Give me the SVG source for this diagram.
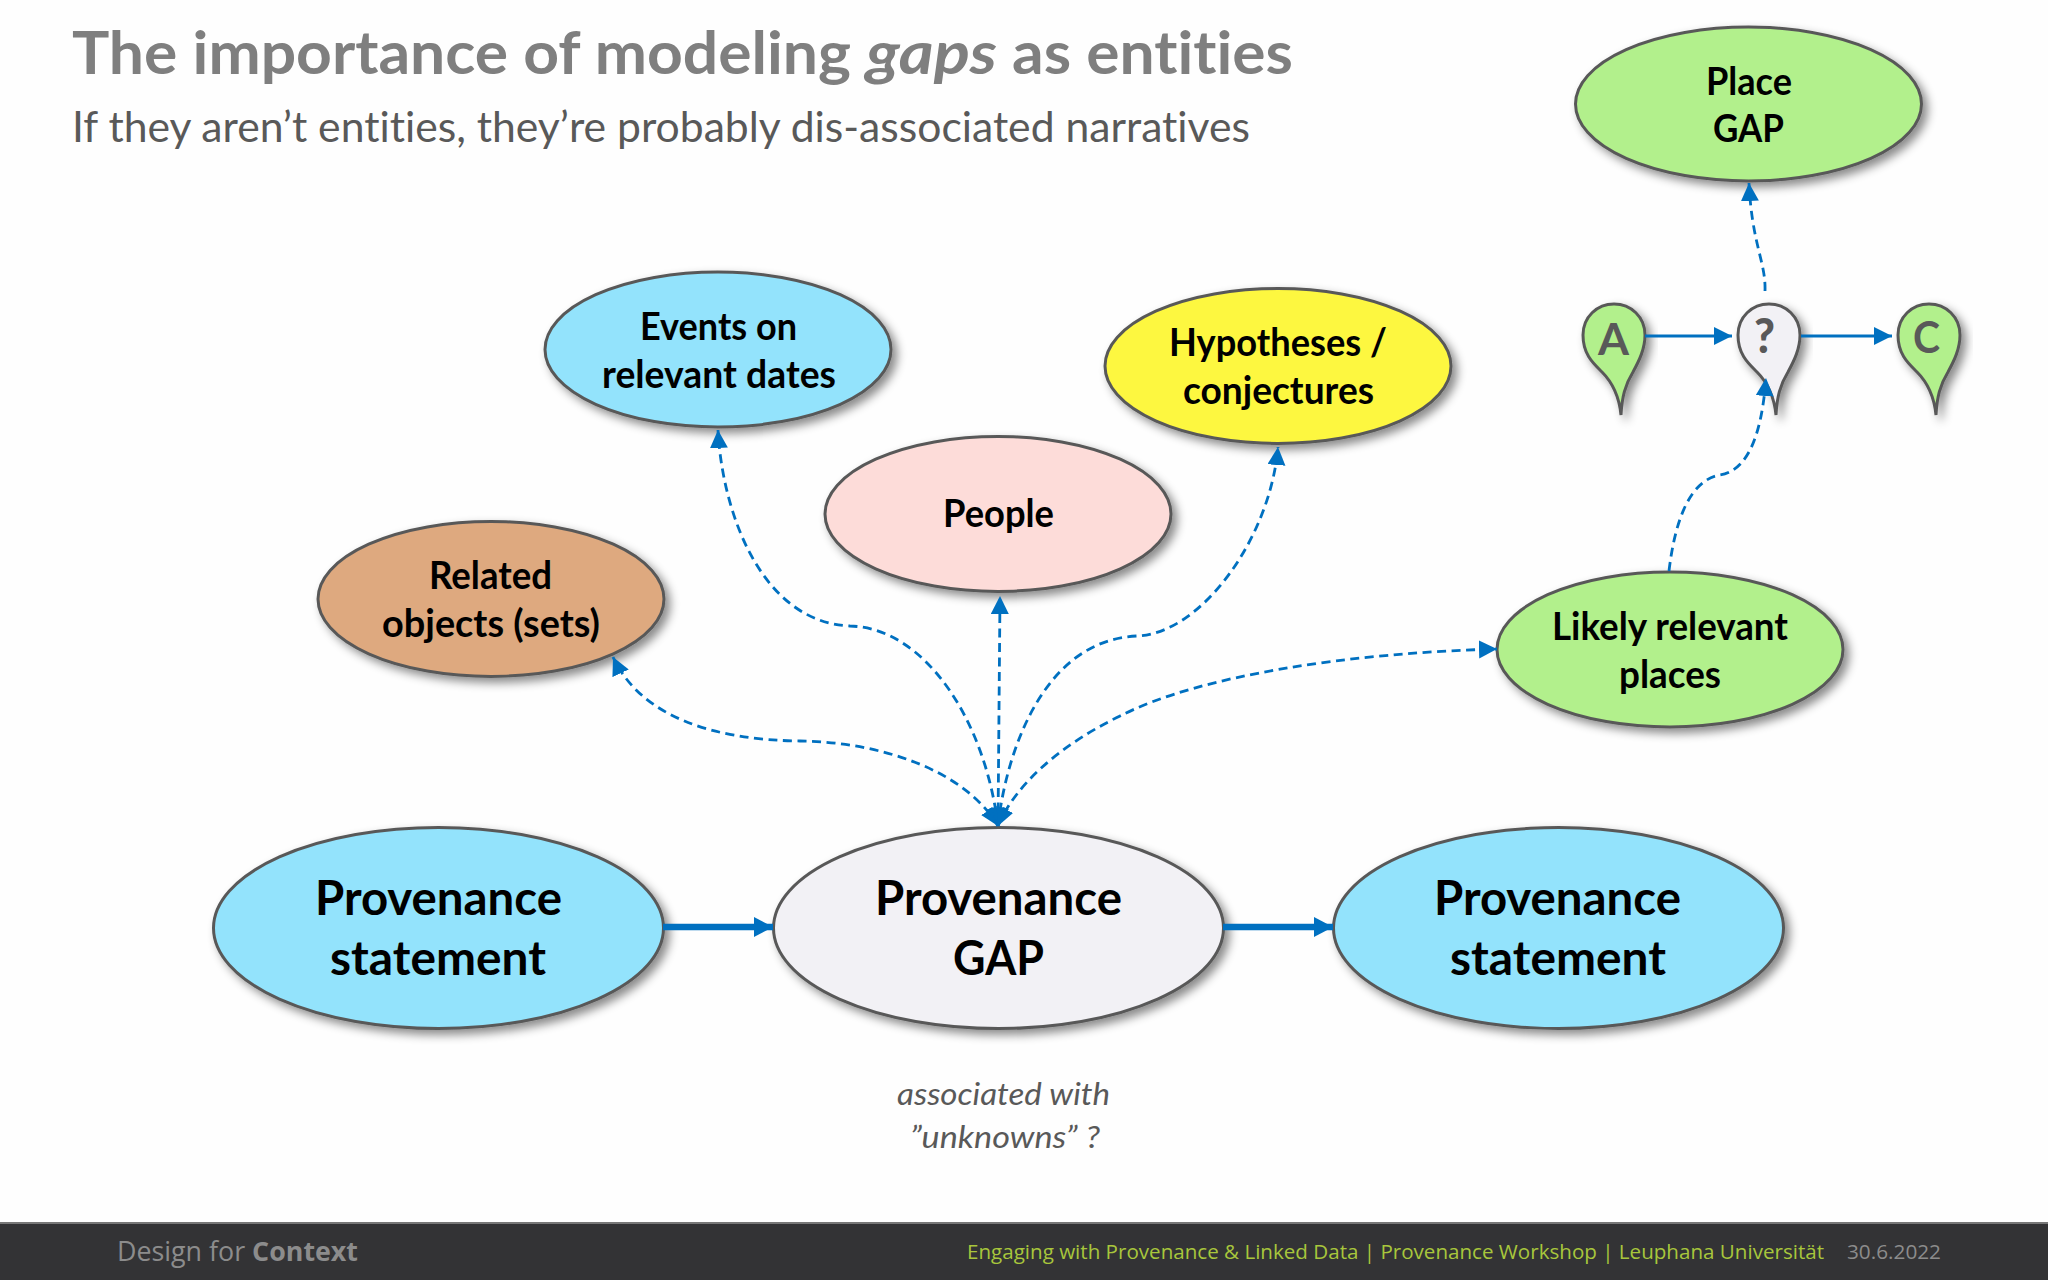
<svg xmlns="http://www.w3.org/2000/svg" width="2048" height="1280" viewBox="0 0 2048 1280">
<style>
text{font-family:Lato,"Open Sans","Liberation Sans",sans-serif;font-variant-ligatures:none}
.n{stroke:#595959;stroke-width:3;filter:url(#sh)}
.s{font-size:39px;font-weight:700;fill:#000}
.b{font-size:47px;font-weight:700;fill:#000}
.d{fill:none;stroke:#0070c0;stroke-width:2.8;stroke-dasharray:9 5.5}
.l{fill:none;stroke:#0070c0;stroke-width:3}
.t{fill:none;stroke:#0070c0;stroke-width:6.5}
.pt{font-size:43px;font-weight:700;fill:#595959}
.note{font-size:31px;font-style:italic;fill:#595959}
.foot{font-family:"Open Sans","Liberation Sans",sans-serif;font-size:20px}
</style>
<defs>
<filter id="sh" x="-15%" y="-15%" width="135%" height="135%"><feDropShadow dx="5" dy="5" stdDeviation="5" flood-color="#000" flood-opacity="0.45"/></filter>
<marker id="a" markerUnits="userSpaceOnUse" markerWidth="20" markerHeight="20" refX="18" refY="9" orient="auto-start-reverse"><path d="M0,0L18,9L0,18Z" fill="#0070c0"/></marker>
<marker id="ab" markerUnits="userSpaceOnUse" markerWidth="20" markerHeight="22" refX="19" refY="10" orient="auto"><path d="M0,0L19,10L0,20Z" fill="#0070c0"/></marker>
<path id="pin" d="M7,80C5,60-3,46-12,37C-20,29-31,20-31,0C-31,-18-17,-31 0,-31C17,-31 31,-18 31,0C31,14 25,26 19,37C11,50 8,62 7,80Z"/>
</defs>
<rect width="2048" height="1280" fill="#fefefe"/>
<text font-size="59" font-weight="700" fill="#7f7f7f" y="74"><tspan x="72" textLength="779" lengthAdjust="spacingAndGlyphs">The importance of modeling</tspan><tspan x="866" font-style="italic" textLength="131" lengthAdjust="spacingAndGlyphs">gaps</tspan><tspan x="1012" textLength="281" lengthAdjust="spacingAndGlyphs">as entities</tspan></text>
<text x="72" y="142" font-size="42" fill="#595959" textLength="1178" lengthAdjust="spacingAndGlyphs">If they aren’t entities, they’re probably dis-associated narratives</text>
<g id="node-place-gap"><ellipse class="n" cx="1748.500" cy="104" rx="173" ry="77" fill="#b2f08c"/><text class="s" x="1706" y="95" textLength="86" lengthAdjust="spacingAndGlyphs">Place</text><text class="s" x="1713" y="142" textLength="71" lengthAdjust="spacingAndGlyphs">GAP</text></g>
<g id="node-events"><ellipse class="n" cx="718" cy="349.500" rx="173" ry="77.500" fill="#93e3fc"/><text class="s" x="640" y="340" textLength="157" lengthAdjust="spacingAndGlyphs">Events on</text><text class="s" x="602" y="388" textLength="234" lengthAdjust="spacingAndGlyphs">relevant dates</text></g>
<g id="node-hypotheses"><ellipse class="n" cx="1278" cy="366" rx="173" ry="77.500" fill="#fdf73f"/><text class="s" x="1169" y="356" textLength="218" lengthAdjust="spacingAndGlyphs">Hypotheses /</text><text class="s" x="1183" y="404" textLength="191" lengthAdjust="spacingAndGlyphs">conjectures</text></g>
<g id="node-people"><ellipse class="n" cx="998" cy="514" rx="173" ry="77.500" fill="#fddcd9"/><text class="s" x="943" y="527" textLength="111" lengthAdjust="spacingAndGlyphs">People</text></g>
<g id="node-related"><ellipse class="n" cx="491" cy="599" rx="173" ry="77.500" fill="#dea97f"/><text class="s" x="429" y="589" textLength="123" lengthAdjust="spacingAndGlyphs">Related</text><text class="s" x="382" y="637" textLength="218" lengthAdjust="spacingAndGlyphs">objects (sets)</text></g>
<g id="node-places"><ellipse class="n" cx="1670" cy="649.500" rx="173" ry="77.500" fill="#b2f08c"/><text class="s" x="1552" y="640" textLength="236" lengthAdjust="spacingAndGlyphs">Likely relevant</text><text class="s" x="1619" y="688" textLength="102" lengthAdjust="spacingAndGlyphs">places</text></g>
<g id="node-statement-left"><ellipse class="n" cx="438.500" cy="928" rx="225" ry="100.500" fill="#93e3fc"/><text class="b" x="315" y="915" textLength="247" lengthAdjust="spacingAndGlyphs">Provenance</text><text class="b" x="330" y="975" textLength="216" lengthAdjust="spacingAndGlyphs">statement</text></g>
<g id="node-gap"><ellipse class="n" cx="998.500" cy="928" rx="225" ry="100.500" fill="#f2f1f5"/><text class="b" x="875" y="915" textLength="247" lengthAdjust="spacingAndGlyphs">Provenance</text><text class="b" x="953" y="975" textLength="91" lengthAdjust="spacingAndGlyphs">GAP</text></g>
<g id="node-statement-right"><ellipse class="n" cx="1558.500" cy="928" rx="225" ry="100.500" fill="#93e3fc"/><text class="b" x="1434" y="915" textLength="247" lengthAdjust="spacingAndGlyphs">Provenance</text><text class="b" x="1450" y="975" textLength="216" lengthAdjust="spacingAndGlyphs">statement</text></g>
<g id="pin-a"><use href="#pin" x="1614" y="335" class="n" fill="#b2f08c"/><text class="pt" x="1598" y="355" textLength="31" lengthAdjust="spacingAndGlyphs">A</text></g>
<g id="pin-q"><use href="#pin" x="1769" y="335" class="n" fill="#f2f1f5"/><text class="pt" x="1754" y="353" style="font-size:48px;font-weight:900" textLength="21" lengthAdjust="spacingAndGlyphs">?</text></g>
<g id="pin-c"><use href="#pin" x="1929" y="335" class="n" fill="#b2f08c"/><text class="pt" x="1913" y="353" textLength="27" lengthAdjust="spacingAndGlyphs">C</text></g>
<g id="connectors">
<path class="t" d="M663,927H773" marker-end="url(#ab)"/>
<path class="t" d="M1223,927H1333" marker-end="url(#ab)"/>
<path class="l" d="M1645,336H1732" marker-end="url(#a)"/>
<path class="l" d="M1801,336H1892" marker-end="url(#a)"/>
<path class="d" d="M1765,291C1766,262 1752,245 1749,183" marker-end="url(#a)"/>
<path class="d" d="M1669,571C1675,520 1690,480 1720,475C1750,470 1762,430 1766,378" marker-end="url(#a)"/>
<path class="d" d="M998,826C965,770 880,742 800,741C710,740 640,715 613,657" marker-start="url(#a)" marker-end="url(#a)"/>
<path class="d" d="M998,826C985,720 925,628 850,626C760,622 722,510 718,430" marker-start="url(#a)" marker-end="url(#a)"/>
<path class="d" d="M998,826L1000,596" marker-start="url(#a)" marker-end="url(#a)"/>
<path class="d" d="M998,826C1005,760 1040,640 1137,636C1200,634 1270,540 1278,447" marker-start="url(#a)" marker-end="url(#a)"/>
<path class="d" d="M998,826C1015,785 1060,745 1120,716C1200,675 1350,653 1497,649" marker-start="url(#a)" marker-end="url(#a)"/>
</g>
<text class="note" x="897" y="1105" textLength="213" lengthAdjust="spacingAndGlyphs">associated with</text>
<text class="note" x="910" y="1148" textLength="190" lengthAdjust="spacingAndGlyphs">”unknowns” ?</text>
<g id="footer">
<rect y="1222" width="2048" height="58" fill="#333335"/>
<rect y="1222" width="2048" height="2" fill="#777"/>
<text class="foot" x="117" y="1261" style="font-size:27px" fill="#8c8c8c" textLength="241" lengthAdjust="spacingAndGlyphs">Design for <tspan font-weight="700">Context</tspan></text>
<text class="foot" x="967" y="1259" fill="#a8c63c" textLength="857" lengthAdjust="spacingAndGlyphs">Engaging with Provenance &amp; Linked Data | Provenance Workshop | Leuphana Universität</text>
<text class="foot" x="1847" y="1259" fill="#8c8c8c" textLength="94" lengthAdjust="spacingAndGlyphs">30.6.2022</text>
</g>
</svg>
